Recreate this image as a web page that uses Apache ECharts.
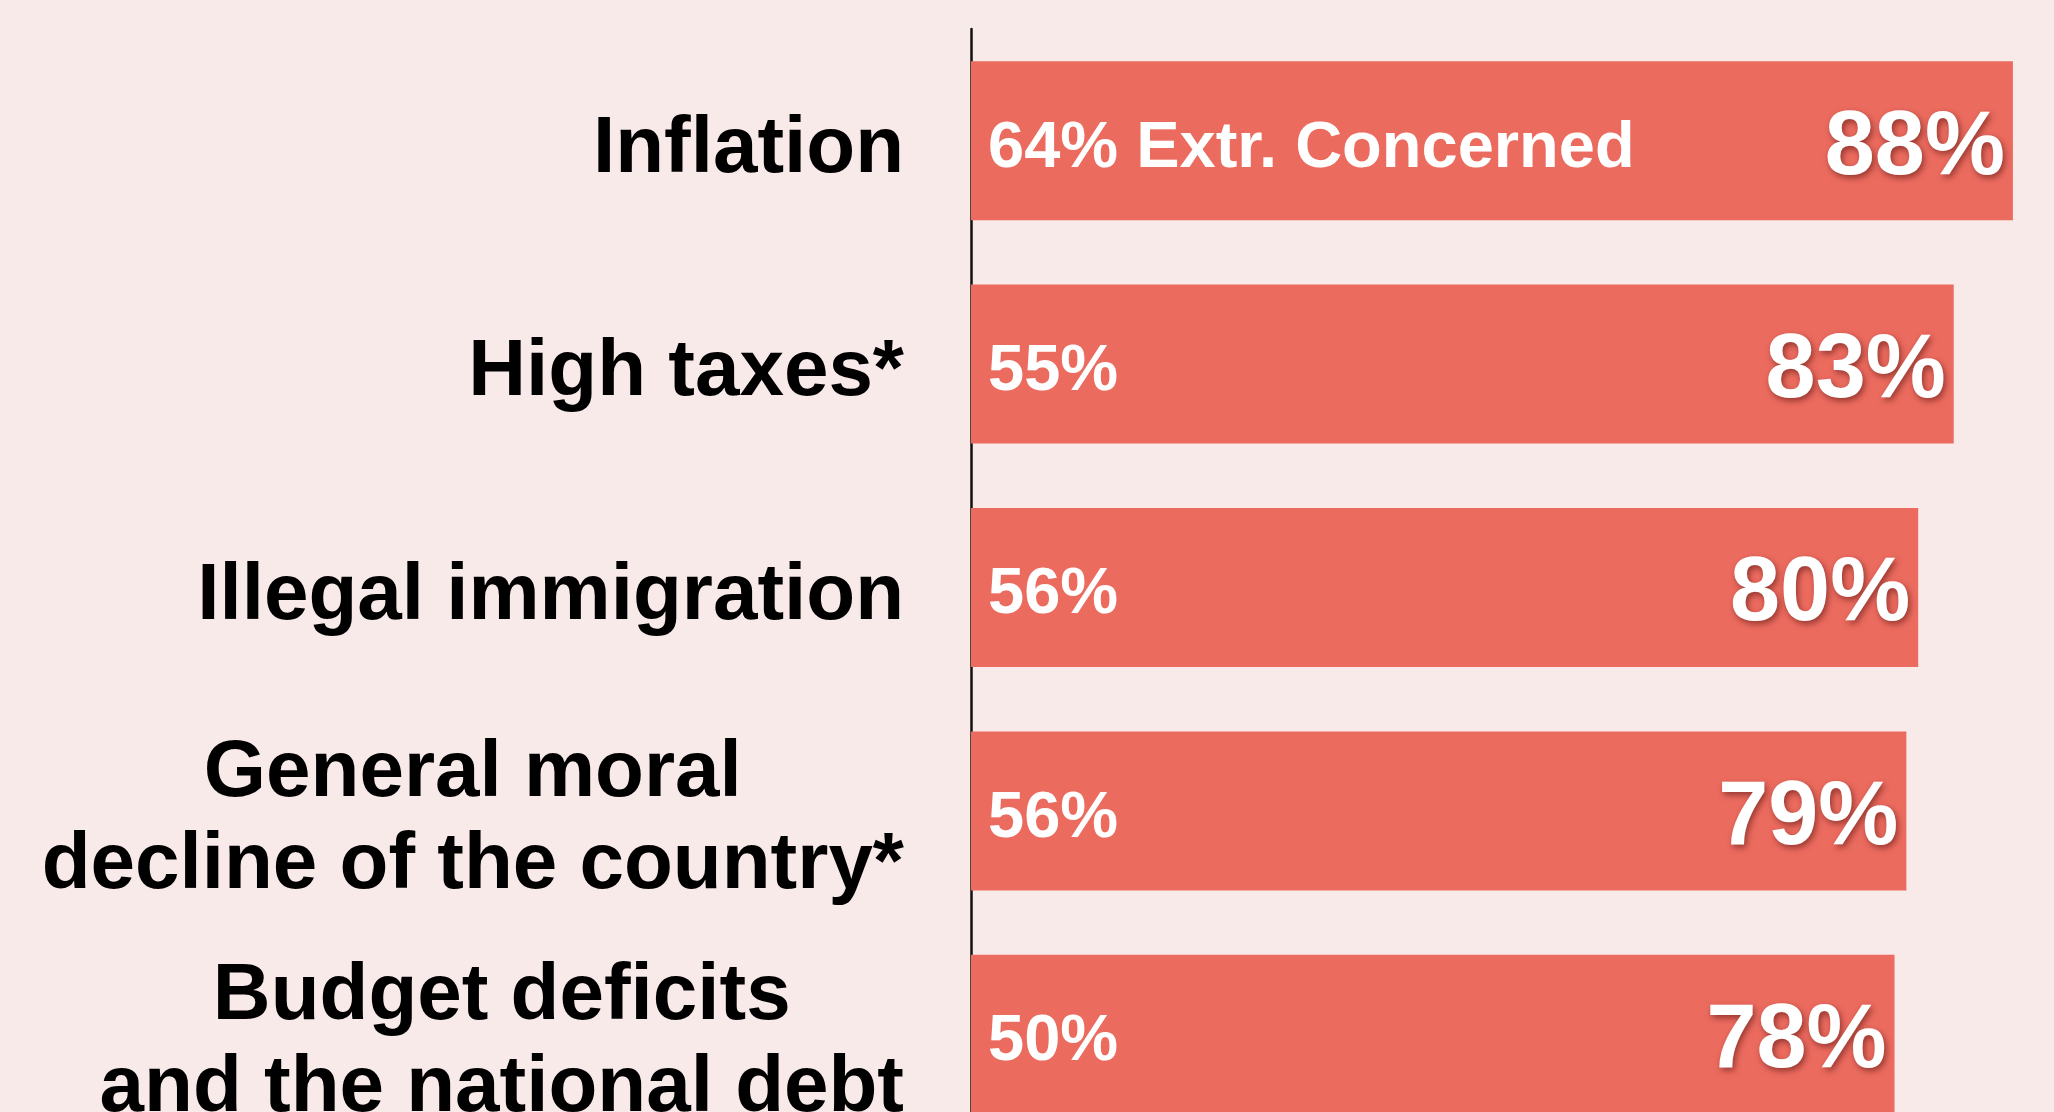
<!DOCTYPE html>
<html>
<head>
<meta charset="utf-8">
<script src="https://cdn.jsdelivr.net/npm/echarts@6/dist/echarts.min.js"></script>
<style>
  html, body { margin: 0; padding: 0; background: #F8EAE8; }
  #chart { width: 2054px; height: 1112px; }
</style>
</head>
<body>
<div id="chart"></div>
<script>
var categories = [
  'Inflation',
  'High taxes*',
  'Illegal immigration',
  'General moral\ndecline of the country*',
  'Budget deficits\nand the national debt'
];
var concerned = [88, 83, 80, 79, 78];
var extremely = [64, 55, 56, 56, 50];
var extremeNote = ' Extr. Concerned';

var FONT = '"Liberation Sans", Arial, sans-serif';
var RED = '#EC6B5F';

var myChart = echarts.init(document.getElementById('chart'));

var option = {
  backgroundColor: '#F8EAE8',
  animation: false,
  grid: {
    left: 971,
    top: 29,
    width: 1184,
    height: 1117,
    outerBoundsMode: 'none'
  },
  xAxis: {
    type: 'value',
    min: 0,
    max: 100,
    show: false,
    splitLine: { show: false }
  },
  yAxis: {
    type: 'category',
    inverse: true,
    data: categories,
    axisLine: { show: true, lineStyle: { color: '#111', width: 2.5 } },
    axisTick: { show: false },
    axisLabel: {
      margin: 67,
      align: 'right',
      padding: [18, 0, 0, 0],
      formatter: function (v) {
        return v.split('\n').map(function (s) { return '{c|' + s + '}'; }).join('\n');
      },
      rich: {
        c: {
          align: 'center',
          fontFamily: FONT,
          fontWeight: 'bold',
          fontSize: 80,
          lineHeight: 92,
          color: '#000'
        }
      }
    }
  },
  series: [
    {
      // share concerned (total)
      type: 'bar',
      data: concerned,
      barWidth: 159,
      itemStyle: { color: RED },
      label: {
        show: true,
        position: 'insideRight',
        distance: 8,
        offset: [0, 8],
        formatter: '{c}%',
        color: '#fff',
        fontFamily: FONT,
        fontWeight: 'bold',
        fontSize: 90,
        textShadowColor: 'rgba(90,20,15,0.6)',
        textShadowBlur: 6,
        textShadowOffsetX: 2,
        textShadowOffsetY: 3
      }
    },
    {
      // extremely concerned, shown only as a label
      type: 'bar',
      data: extremely,
      barWidth: 159,
      barGap: '-100%',
      itemStyle: { color: 'rgba(0,0,0,0)' },
      label: {
        show: true,
        position: [17, '50%'],
        align: 'left',
        verticalAlign: 'middle',
        offset: [0, 8],
        formatter: function (p) {
          return p.value + '%' + (p.dataIndex === 0 ? extremeNote : '');
        },
        color: '#fff',
        fontFamily: FONT,
        fontWeight: 'bold',
        fontSize: 65
      }
    }
  ]
};
myChart.setOption(option);
</script>
</body>
</html>
